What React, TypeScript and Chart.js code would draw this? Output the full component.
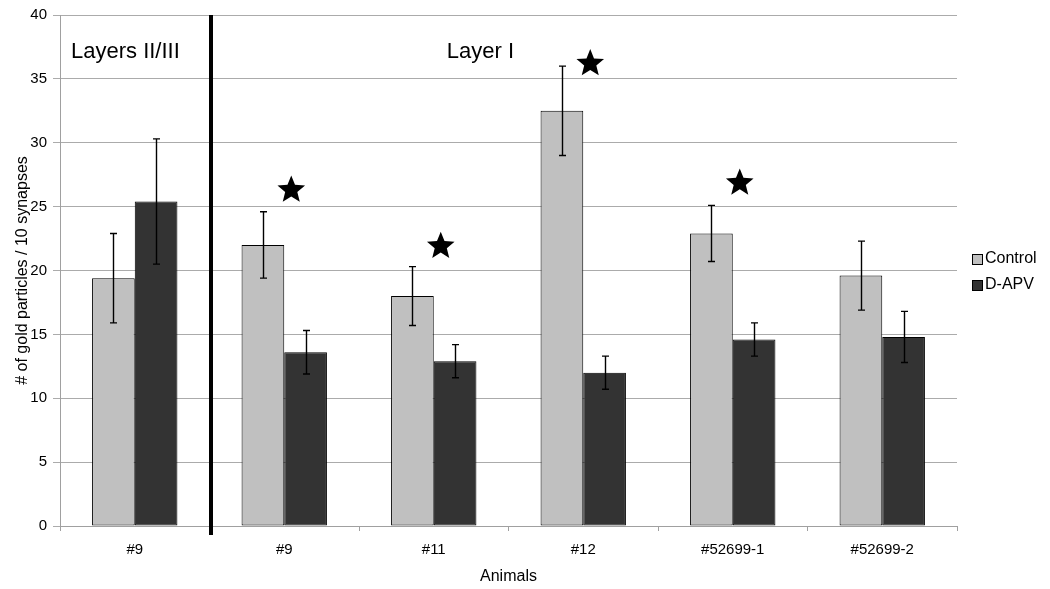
import { useEffect, useRef } from "react";
import { Chart, registerables } from "chart.js";

Chart.register(...registerables);

const categories = ["#9", "#9", "#11", "#12", "#52699-1", "#52699-2"];
const seriesNames = ["Control", "D-APV"];
const controlValues = [19.4, 22.0, 18.0, 32.5, 22.9, 19.6];
const controlErrors = [3.5, 2.6, 2.3, 3.5, 2.2, 2.7];
const dapvValues = [25.4, 13.6, 12.9, 12.0, 14.6, 14.8];
const dapvErrors = [4.9, 1.7, 1.3, 1.3, 1.3, 2.0];
const starValues: (number | null)[] = [null, 26.3, 21.9, 36.2, 26.85, null];
const regionLabels = ["Layers II/III", "Layer I"];
const yTitle = "# of gold particles / 10 synapses";
const xTitle = "Animals";

const FONT = '"Liberation Sans", Arial, Helvetica, sans-serif';
const controlColor = "#c0c0c0";
const dapvColor = "#333333";
const gridColor = "#ababab";
const axisColor = "#a0a0a0";

function drawStar(ctx: CanvasRenderingContext2D, cx: number, cy: number, R: number) {
  const r = R * 0.44;
  ctx.beginPath();
  for (let k = 0; k < 10; k++) {
    const ang = -Math.PI / 2 + (k * Math.PI) / 5;
    const rad = k % 2 === 0 ? R : r;
    const px = cx + rad * Math.cos(ang);
    const py = cy + rad * Math.sin(ang);
    if (k === 0) ctx.moveTo(px, py);
    else ctx.lineTo(px, py);
  }
  ctx.closePath();
  ctx.fill();
}

const overlayPlugin = {
  id: "overlay",
  afterDatasetsDraw(chart: any) {
    const ctx: CanvasRenderingContext2D = chart.ctx;
    const xs = chart.scales.x;
    const ys = chart.scales.y;
    const area = chart.chartArea;
    ctx.save();

    // error bars
    [controlErrors, dapvErrors].forEach((errs, di) => {
      const meta = chart.getDatasetMeta(di);
      const vals = chart.data.datasets[di].data as number[];
      meta.data.forEach((el: any, i: number) => {
        const v = vals[i];
        const e = errs[i];
        const yt = ys.getPixelForValue(v + e);
        const yb = ys.getPixelForValue(v - e);
        const x = Math.round(el.x) + 0.5;
        ctx.strokeStyle = "#000";
        ctx.lineWidth = 1.4;
        ctx.beginPath();
        ctx.moveTo(x, yt);
        ctx.lineTo(x, yb);
        ctx.moveTo(x - 3.5, yt);
        ctx.lineTo(x + 3.5, yt);
        ctx.moveTo(x - 3.5, yb);
        ctx.lineTo(x + 3.5, yb);
        ctx.stroke();
      });
    });

    // divider between layers
    const divX = (xs.getPixelForValue(0) + xs.getPixelForValue(1)) / 2 + 1.5;
    ctx.fillStyle = "#000";
    ctx.fillRect(divX - 2, area.top, 4, area.bottom - area.top + 9);

    // stars
    ctx.fillStyle = "#000";
    starValues.forEach((sv, i) => {
      if (sv == null) return;
      drawStar(ctx, xs.getPixelForValue(i) + 7, ys.getPixelForValue(sv), 14.5);
    });

    // region labels
    ctx.font = `22px ${FONT}`;
    ctx.fillStyle = "#000";
    ctx.textAlign = "left";
    ctx.textBaseline = "alphabetic";
    ctx.fillText(regionLabels[0], area.left + 11, area.top + 42.5);
    ctx.fillText(regionLabels[1], xs.getPixelForValue(2) + 13, area.top + 42.5);

    // legend
    const midY = (area.top + area.bottom) / 2 + 1.5;
    const items = [
      { label: seriesNames[0], color: controlColor, y: midY - 13 },
      { label: seriesNames[1], color: dapvColor, y: midY + 13 },
    ];
    ctx.font = `16px ${FONT}`;
    ctx.textBaseline = "middle";
    items.forEach((it) => {
      const bx = area.right + 15.5;
      const by = Math.round(it.y - 5) + 0.5;
      ctx.fillStyle = it.color;
      ctx.fillRect(bx, by, 10, 10);
      ctx.strokeStyle = "#000";
      ctx.lineWidth = 1;
      ctx.strokeRect(bx, by, 10, 10);
      ctx.fillStyle = "#000";
      ctx.fillText(it.label, area.right + 28, it.y);
    });

    ctx.restore();
  },
};

export default function App() {
  const ref = useRef<HTMLCanvasElement>(null);

  useEffect(() => {
    Chart.defaults.font.family = FONT;
    const chart = new Chart(ref.current!, {
      type: "bar",
      data: {
        labels: categories,
        datasets: [
          {
            label: seriesNames[0],
            data: controlValues,
            backgroundColor: controlColor,
            borderColor: "#000",
            borderWidth: 1,
            borderSkipped: false,
            categoryPercentage: 0.571,
            barPercentage: 1,
          },
          {
            label: seriesNames[1],
            data: dapvValues,
            backgroundColor: dapvColor,
            borderColor: "#000",
            borderWidth: 1,
            borderSkipped: false,
            categoryPercentage: 0.571,
            barPercentage: 1,
          },
        ],
      },
      options: {
        animation: false,
        responsive: true,
        maintainAspectRatio: false,
        layout: { padding: { top: 13, right: 93, bottom: 0, left: 0 } },
        plugins: {
          legend: { display: false },
          tooltip: { enabled: false },
        },
        scales: {
          x: {
            offset: true,
            grid: {
              offset: true,
              drawOnChartArea: false,
              drawTicks: true,
              tickLength: 5,
              color: axisColor,
            },
            border: { color: axisColor },
            ticks: { font: { size: 15 }, color: "#000", padding: 10 },
            title: {
              display: true,
              text: xTitle,
              font: { size: 16 },
              color: "#000",
              padding: { top: 0, bottom: 3 },
            },
            afterFit: (s: any) => {
              s.height = 63;
            },
          },
          y: {
            min: 0,
            max: 40,
            ticks: { stepSize: 5, font: { size: 15 }, color: "#000", padding: 6 },
            grid: { color: gridColor, tickLength: 7, drawTicks: true },
            border: { color: axisColor },
            title: {
              display: true,
              text: yTitle,
              font: { size: 16 },
              color: "#000",
              padding: { top: 13, bottom: 0 },
            },
            afterFit: (s: any) => {
              s.width = 60;
            },
          },
        },
      },
      plugins: [overlayPlugin],
    });
    return () => chart.destroy();
  }, []);

  return (
    <div
      style={{
        position: "fixed",
        left: 0,
        top: 0,
        width: 1050,
        height: 589,
        background: "#fff",
      }}
    >
      <canvas ref={ref} />
    </div>
  );
}
